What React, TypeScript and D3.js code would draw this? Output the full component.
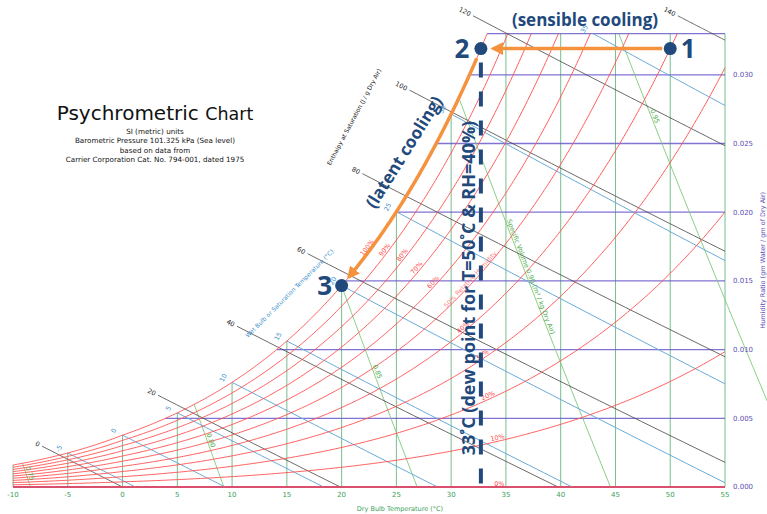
import React from "react";
import * as d3 from "d3";

const P_ATM = 101.325;
const dryBulbTicks = [-10, -5, 0, 5, 10, 15, 20, 25, 30, 35, 40, 45, 50, 55];
const humidityTicks = [0, 0.005, 0.01, 0.015, 0.02, 0.025, 0.03];
const humidityTickLabels = ["0.000", "0.005", "0.010", "0.015", "0.020", "0.025", "0.030"];
const humidityTop = 0.033;
const enthalpyTop = 0.0343;
const rhLevels = [0, 0.1, 0.2, 0.3, 0.4, 0.5, 0.6, 0.7, 0.8, 0.9, 1.0];
const rhLabels = ["0%", "10%", "20%", "30%", "40%", "50% Relative Humidity", "60%", "70%", "80%", "90%", "100%"];
const rhLabelT = [34.4, 34.3, 33.5, 33.0, 31.3, 32.0, 28.6, 27.1, 25.8, 24.2, 22.6];
const wetBulbTemps = [-5, 0, 5, 10, 15, 20, 25, 30, 35];
const enthalpyValues = [0, 20, 40, 60, 80, 100, 120, 140];
const enthalpyStartT = [-7.35, 3.24, 10.45, 16.9, 21.9, 26.2, 32.0, 50.7];
const volumeValues = [0.75, 0.8, 0.85, 0.9, 0.95];
const volumeLabels = ["0.75", "0.80", "0.85", "Specific Volume 0.90 (m³ / kg Dry Air)", "0.95"];
const volumeLabelW = [0.0009, 0.0033, 0.0083, 0.0152, 0.0269];
const stateT = [50, 20];
const stateRH = 0.4;
const subtitleLines = [
  "SI (metric) units",
  "Barometric Pressure 101.325 kPa (Sea level)",
  "based on data from",
  "Carrier Corporation Cat. No. 794-001, dated 1975",
];

const NAVY = "#22497c";
const ORANGE = "#f5923e";
const FONT = "'DejaVu Sans', sans-serif";
const BOLD = "'Open Sans', 'DejaVu Sans', sans-serif";

function psat(T: number) {
  return T >= 0
    ? 0.61094 * Math.exp((17.625 * T) / (T + 243.04))
    : 0.61115 * Math.exp((22.452 * T) / (272.55 + T));
}
function wFromRH(T: number, rh: number) {
  const p = rh * psat(T);
  return (0.622 * p) / (P_ATM - p);
}
function wsat(T: number) {
  return wFromRH(T, 1);
}
function solve(f: (v: number) => number, a: number, b: number) {
  let fa = f(a);
  for (let i = 0; i < 80; i++) {
    const m = (a + b) / 2;
    const fm = f(m);
    if (fm < 0 === fa < 0) {
      a = m;
      fa = fm;
    } else b = m;
  }
  return (a + b) / 2;
}
function tsatOfW(W: number) {
  return solve((t) => wsat(t) - W, -40, 80);
}
function wetBulbW(T: number, twb: number) {
  return ((2501 - 2.326 * twb) * wsat(twb) - 1.006 * (T - twb)) / (2501 + 1.86 * T - 4.186 * twb);
}
function enthalpyW(T: number, h: number) {
  return (h - 1.006 * T) / (2501 + 1.86 * T);
}
function volumeT(W: number, v: number) {
  return (v * P_ATM) / (0.287042 * (1 + 1.607858 * W)) - 273.15;
}

export default function App() {
  const width = 767;
  const height = 514;
  const x = d3.scaleLinear().domain([-10, 55]).range([13, 725]);
  const y = d3.scaleLinear().domain([0, humidityTop]).range([487, 33.6]);
  const line = d3.line<[number, number]>().x((d) => x(d[0])).y((d) => y(d[1]));
  const pixLine = d3.line<[number, number]>().curve(d3.curveLinear);
  const P = (pts: [number, number][]) => line(pts) || "";

  const sample = (a: number, b: number, n: number, f: (t: number) => [number, number]) =>
    d3.range(n + 1).map((i) => f(a + ((b - a) * i) / n));

  const angleAt = (f: (t: number) => [number, number], t: number, eps = 0.05) => {
    const p0 = f(t - eps);
    const p1 = f(t + eps);
    return (Math.atan2(y(p1[1]) - y(p0[1]), x(p1[0]) - x(p0[0])) * 180) / Math.PI;
  };

  // Relative humidity curves
  const rhCurves = rhLevels.map((rh, i) => {
    const f = (t: number): [number, number] => [t, wFromRH(t, rh)];
    const tEnd = wFromRH(55, rh) > humidityTop ? solve((t) => wFromRH(t, rh) - humidityTop, -10, 55) : 55;
    const d = P(sample(-10, tEnd, 300, f));
    const lt = rhLabelT[i];
    const lp = f(lt);
    return { d, label: rhLabels[i], lx: x(lp[0]), ly: y(lp[1]), ang: angleAt(f, lt) };
  });

  // Dry bulb verticals
  const dryLines = dryBulbTicks.map((t) => ({ t, top: Math.min(wsat(t), humidityTop) }));

  // Humidity ratio horizontals
  const humLines = [...humidityTicks.slice(1), humidityTop].map((w) => ({ w, t0: tsatOfW(w) }));

  // Wet bulb lines
  const wetLines = wetBulbTemps.map((twb) => {
    const f = (t: number): [number, number] => [t, wetBulbW(t, twb)];
    const tStart = wsat(twb) > humidityTop ? solve((t) => wetBulbW(t, twb) - humidityTop, twb, 55) : twb;
    const tEnd = wetBulbW(55, twb) < 0 ? solve((t) => wetBulbW(t, twb), twb, 55) : 55;
    const a = angleAt(f, tStart + 0.1);
    const sp = f(tStart);
    const rad = (a * Math.PI) / 180;
    return {
      twb,
      d: P(sample(tStart, tEnd, 40, f)),
      lx: x(sp[0]) - 10 * Math.cos(rad),
      ly: y(sp[1]) - 10 * Math.sin(rad),
      ang: a - 90,
    };
  });

  // Enthalpy lines
  const enthLines = enthalpyValues.map((h, i) => {
    const f = (t: number): [number, number] => [t, enthalpyW(t, h)];
    const tTop =
      enthalpyW(-20, h) > enthalpyTop ? solve((t) => enthalpyW(t, h) - enthalpyTop, -20, 60) : -20;
    const tStart = Math.max(enthalpyStartT[i], tTop);
    const tEnd = Math.min(55, h / 1.006);
    const a = angleAt(f, tStart + 0.1);
    const sp = f(tStart);
    const rad = (a * Math.PI) / 180;
    return {
      h,
      d: P(sample(tStart, tEnd, 40, f)),
      lx: x(sp[0]) - 3 * Math.cos(rad),
      ly: y(sp[1]) - 3 * Math.sin(rad),
      ang: a,
    };
  });

  // Specific volume lines
  const volLines = volumeValues.map((v, i) => {
    const f = (w: number): [number, number] => [volumeT(w, v), w];
    const g = (w: number) => w - wsat(volumeT(w, v));
    const wTop = g(humidityTop) > 0 ? solve(g, 0, humidityTop) : humidityTop;
    const lw = volumeLabelW[i];
    const p0 = f(lw + 0.0002);
    const p1 = f(lw - 0.0002);
    const ang = (Math.atan2(y(p1[1]) - y(p0[1]), x(p1[0]) - x(p0[0])) * 180) / Math.PI;
    const lp = f(lw);
    return { d: P(sample(0, wTop, 30, f)), label: volumeLabels[i], lx: x(lp[0]), ly: y(lp[1]), ang };
  });

  // Process states
  const w1 = wFromRH(stateT[0], stateRH);
  const tDew = tsatOfW(w1);
  const p1: [number, number] = [x(stateT[0]), y(w1)];
  const p2: [number, number] = [x(tDew), y(w1)];
  const p3: [number, number] = [x(stateT[1]), y(wsat(stateT[1]))];

  const satPix = d3.range(0, 201).map((i) => {
    const t = tDew + ((stateT[1] - tDew) * i) / 200;
    return [x(t), y(wsat(t))] as [number, number];
  });
  const dist = (a: [number, number], b: [number, number]) => Math.hypot(a[0] - b[0], a[1] - b[1]);
  const latentPts = satPix.filter((p) => dist(p, p2) > 9 && dist(p, p3) > 10);
  const latentD = pixLine(latentPts) || "";

  return (
    <svg
      width={width}
      height={height}
      viewBox={`0 0 ${width} ${height}`}
      style={{ position: "absolute", left: 0, top: 0, background: "#fff" }}
    >
      <defs>
        <marker id="ah" viewBox="0 0 10 10" refX="8" refY="5" markerWidth="3.6" markerHeight="3.6" orient="auto">
          <path d="M0,0 L10,5 L0,10 z" fill={ORANGE} />
        </marker>
      </defs>

      {/* dry bulb verticals */}
      {dryLines.map((l) => (
        <line
          key={"db" + l.t}
          x1={x(l.t)}
          x2={x(l.t)}
          y1={y(0)}
          y2={y(l.top)}
          stroke="#3da35d"
          strokeOpacity={0.7}
          strokeWidth={1}
        />
      ))}

      {/* humidity ratio horizontals */}
      <line x1={x(-10)} x2={x(55)} y1={y(0)} y2={y(0)} stroke="#6a5acd" strokeWidth={2} />
      {humLines.map((l) => (
        <line
          key={"hw" + l.w}
          x1={x(l.t0)}
          x2={x(55)}
          y1={y(l.w)}
          y2={y(l.w)}
          stroke="#6a5acd"
          strokeOpacity={0.85}
          strokeWidth={1.3}
        />
      ))}

      {/* specific volume */}
      {volLines.map((l, i) => (
        <path key={"v" + i} d={l.d} fill="none" stroke="#7cc97c" strokeWidth={0.9} />
      ))}

      {/* wet bulb */}
      {wetLines.map((l) => (
        <path key={"wb" + l.twb} d={l.d} fill="none" stroke="#6aaad8" strokeWidth={1} />
      ))}

      {/* enthalpy */}
      {enthLines.map((l) => (
        <path key={"h" + l.h} d={l.d} fill="none" stroke="#444" strokeWidth={0.8} />
      ))}

      {/* RH curves */}
      {rhCurves.map((c, i) => (
        <path key={"rh" + i} d={c.d} fill="none" stroke="#ff4d4d" strokeWidth={i === 0 ? 1.4 : 0.9} />
      ))}

      {/* labels */}
      <g fontFamily={FONT}>
        {dryBulbTicks.map((t) => (
          <text key={"xt" + t} x={x(t)} y={497} fontSize={7} fill="#3aa05a" textAnchor="middle">
            {t}
          </text>
        ))}
        {humidityTicks.map((w, i) => (
          <text key={"yt" + i} x={733} y={y(w)} dy="0.35em" fontSize={7} fill="#5b4fb5">
            {humidityTickLabels[i]}
          </text>
        ))}
        <text x={400} y={511} fontSize={6.5} fill="#3aa05a" textAnchor="middle">
          Dry Bulb Temperature (°C)
        </text>
        <text
          transform={`translate(765,${(y(0) + y(humidityTop)) / 2}) rotate(-90)`}
          fontSize={6.5}
          fill="#5b4fb5"
          textAnchor="middle"
        >
          Humidity Ratio (gm Water / gm of Dry Air)
        </text>

        {rhCurves.map((c, i) => (
          <text
            key={"rhl" + i}
            transform={`translate(${c.lx},${c.ly}) rotate(${c.ang})`}
            dy={-1.5}
            fontSize={6.5}
            fill="#ff2a2a"
            fillOpacity={i === 5 ? 0.6 : 0.9}
            textAnchor="middle"
          >
            {c.label}
          </text>
        ))}

        {wetLines.map((l) => (
          <text
            key={"wbl" + l.twb}
            transform={`translate(${l.lx},${l.ly}) rotate(${l.ang})`}
            dy="0.35em"
            fontSize={6.5}
            fill="#3d8fcc"
            textAnchor="middle"
          >
            {l.twb}
          </text>
        ))}
        <text
          transform="translate(291,295) rotate(-45)"
          fontSize={6}
          fill="#3d8fcc"
          textAnchor="middle"
        >
          Wet Bulb or Saturation Temperature (°C)
        </text>

        {enthLines.map((l) => (
          <text
            key={"hl" + l.h}
            transform={`translate(${l.lx},${l.ly}) rotate(${l.ang})`}
            dy="0.35em"
            fontSize={6.5}
            fill="#222"
            textAnchor="end"
          >
            {l.h}
          </text>
        ))}
        <text transform="translate(356,118) rotate(-62)" fontSize={6} fill="#222" textAnchor="middle">
          Enthalpy at Saturation (J / g Dry Air)
        </text>

        {volLines.map((l, i) => (
          <text
            key={"vl" + i}
            transform={`translate(${l.lx},${l.ly}) rotate(${l.ang})`}
            dy={-1.5}
            fontSize={6.5}
            fill="#4bab4b"
            textAnchor="middle"
          >
            {l.label}
          </text>
        ))}

        <text x={155} y={120} textAnchor="middle" fill="#111">
          <tspan fontSize={20}>Psychrometric </tspan>
          <tspan fontSize={17.5}>Chart</tspan>
        </text>
        {subtitleLines.map((s, i) => (
          <text key={"st" + i} x={155} y={134 + i * 9.4} fontSize={7.2} textAnchor="middle" fill="#111">
            {s}
          </text>
        ))}
      </g>

      {/* process annotations */}
      <line
        x1={p2[0]}
        x2={p2[0]}
        y1={p2[1] + 14}
        y2={y(0)}
        stroke={NAVY}
        strokeWidth={4}
        strokeDasharray="15 14"
      />
      <line
        x1={p1[0] - 8}
        x2={p2[0] + 12}
        y1={p1[1]}
        y2={p2[1]}
        stroke={ORANGE}
        strokeWidth={3.5}
        markerEnd="url(#ah)"
      />
      <path d={latentD} fill="none" stroke={ORANGE} strokeWidth={3.5} markerEnd="url(#ah)" />
      {[p1, p2, p3].map((p, i) => (
        <circle key={"pt" + i} cx={p[0]} cy={p[1]} r={6.5} fill={NAVY} />
      ))}

      <g fontFamily={BOLD} fontWeight={700} fill={NAVY}>
        <text x={p1[0] + 18} y={p1[1] + 9} fontSize={26} textAnchor="middle">
          1
        </text>
        <text x={p2[0] - 19} y={p2[1] + 9} fontSize={26} textAnchor="middle">
          2
        </text>
        <text x={p3[0] - 17} y={p3[1] + 9.5} fontSize={26} textAnchor="middle">
          3
        </text>
        <text x={585} y={26} fontSize={17} textAnchor="middle">
          (sensible cooling)
        </text>
        <text transform="translate(404,152) rotate(-58)" fontSize={17} textAnchor="middle" dy="0.35em">
          (latent cooling)
        </text>
        <text transform="translate(468.5,288) rotate(-90)" fontSize={18} textAnchor="middle" dy="0.35em">
          33˚C (dew point for T=50˚C &amp; RH=40%)
        </text>
      </g>
    </svg>
  );
}
